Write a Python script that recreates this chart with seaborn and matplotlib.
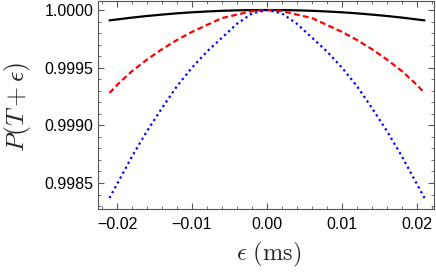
"""Recreate P(T+eps) curves vs eps."""
import numpy as np
import pandas as pd
import matplotlib
matplotlib.use('Agg')
import matplotlib.pyplot as plt
import matplotlib.ticker as mticker
import seaborn as sns

# values (symmetric about eps = 0)
eps = [-0.021, -0.020, -0.018, -0.016, -0.014, -0.012, -0.010, -0.008, -0.006, -0.004, -0.002,
       0.0, 0.002, 0.004, 0.006, 0.008, 0.010, 0.012, 0.014, 0.016, 0.018, 0.020, 0.021]
p_black = [0.99991, 0.999918, 0.999934, 0.999948, 0.99996, 0.999971, 0.99998, 0.999987, 0.999993, 0.999997, 0.999999,
           1.0, 0.999999, 0.999997, 0.999993, 0.999987, 0.99998, 0.999971, 0.99996, 0.999948, 0.999934, 0.999918, 0.99991]
p_red = [0.99928, 0.99935, 0.99947, 0.99957, 0.99966, 0.99974, 0.99981, 0.99987, 0.99993, 0.99996, 0.99999,
         1.0, 0.99999, 0.99996, 0.99993, 0.99987, 0.99981, 0.99974, 0.99966, 0.99957, 0.99947, 0.99935, 0.99928]
p_blue = [0.99837, 0.99849, 0.99873, 0.99895, 0.99915, 0.99934, 0.99950, 0.99964, 0.99976, 0.99988, 0.99997,
          1.0, 0.99997, 0.99988, 0.99976, 0.99964, 0.99950, 0.99934, 0.99915, 0.99895, 0.99873, 0.99849, 0.99837]

x_ticks = [-0.02, -0.01, 0.0, 0.01, 0.02]
y_ticks = [0.9985, 0.9990, 0.9995, 1.0000]

sns.set_style('ticks')
plt.rcParams['font.family'] = ['Liberation Sans', 'DejaVu Sans']
plt.rcParams['mathtext.fontset'] = 'cm'

fig = plt.figure(figsize=(4.36, 2.76), dpi=100)
ax = fig.add_axes([0.2248, 0.2428, 0.7706, 0.7536])

df = pd.DataFrame({'eps': eps, 'black': p_black, 'red': p_red, 'blue': p_blue})
sns.lineplot(data=df, x='eps', y='black', ax=ax, color='black', lw=1.6)
sns.lineplot(data=df, x='eps', y='red', ax=ax, color='red', lw=1.6)
sns.lineplot(data=df, x='eps', y='blue', ax=ax, color='blue', lw=1.6)
ax.lines[1].set_dashes([2.6, 1.5])
ax.lines[2].set_dashes([1.0, 1.5])

ax.set_xlim(-0.02253, 0.02227)
ax.set_ylim(0.998275, 1.000078)
ax.xaxis.set_major_locator(mticker.FixedLocator(x_ticks))
ax.yaxis.set_major_locator(mticker.FixedLocator(y_ticks))
ax.xaxis.set_minor_locator(mticker.MultipleLocator(0.002))
ax.yaxis.set_minor_locator(mticker.MultipleLocator(0.0001))
ax.xaxis.set_major_formatter(mticker.FuncFormatter(lambda v, _: f'{v:.2f}'.replace('-', '\u2212')))
ax.yaxis.set_major_formatter(mticker.FuncFormatter(lambda v, _: f'{v:.4f}'))
ax.tick_params(which='both', direction='in', top=True, right=True, colors='#555555',
               labelcolor='black', labelsize=11.5)
ax.tick_params(which='major', length=4.5, width=0.8)
ax.tick_params(which='minor', length=2.5, width=0.6)
ax.tick_params(axis='x', which='major', pad=5.5)
for s in ax.spines.values():
    s.set_color('#555555')
    s.set_linewidth(0.8)

ax.set_xlabel(r'$\epsilon\ (\mathrm{ms})$', fontsize=17.5, va='center', ha='center')
ax.set_ylabel(r'$P(T+\epsilon)$', fontsize=18.5, va='center', ha='center')
ax.xaxis.set_label_coords(0.509, -0.22)
ax.yaxis.set_label_coords(-0.241, 0.49)

fig.savefig('out.png', dpi=100)
